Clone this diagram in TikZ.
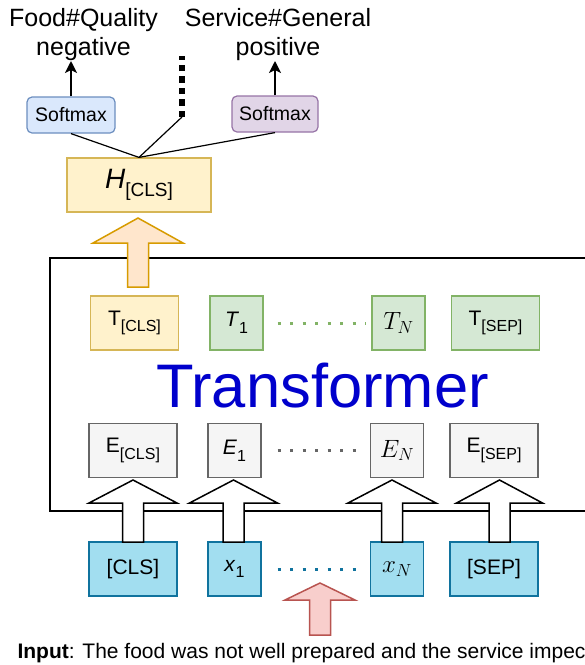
\RequirePackage{fix-cm}
\documentclass[tikz,border=0pt]{standalone}
\usepackage{fontspec}
\setmainfont{Liberation Sans}
\usetikzlibrary{arrows.meta}

\definecolor{clsfill}{HTML}{FFF2CC}
\definecolor{clsline}{HTML}{D6B656}
\definecolor{tokfill}{HTML}{D5E8D4}
\definecolor{tokline}{HTML}{82B366}
\definecolor{embfill}{HTML}{F5F5F5}
\definecolor{embline}{HTML}{666666}
\definecolor{inpfill}{HTML}{A2DEF0}
\definecolor{inpline}{HTML}{10739E}
\definecolor{smaxfill}{HTML}{DAE8FC}
\definecolor{smaxline}{HTML}{6C8EBF}
\definecolor{smbfill}{HTML}{E1D5E7}
\definecolor{smbline}{HTML}{9673A6}
\definecolor{upfill}{HTML}{FFE6CC}
\definecolor{upline}{HTML}{D79B00}
\definecolor{infill}{HTML}{F8CECC}
\definecolor{inline}{HTML}{B85450}
\definecolor{trfblue}{HTML}{0000CC}

% lowered small index for the box labels
\newcommand{\lowsub}[1]{\raisebox{-0.32em}{\fontsize{16}{16}\selectfont #1}}
% bigger math label for the last token
\newcommand{\mlab}[1]{{\fontsize{25}{28}\selectfont$#1$}}

% block arrow pointing up: style, x, bottom, neck, tip, half width of head
\newcommand{\blockup}[6]{%
	\draw[#1] (#2-10.5,#3) -- (#2-10.5,#4) -- (#2-#6,#4) -- (#2,#5)
		-- (#2+#6,#4) -- (#2+10.5,#4) -- (#2+10.5,#3) -- cycle;}

\begin{document}
\begin{tikzpicture}[x=1pt,y=-1pt,
	 every node/.style={font=\fontsize{21}{25}\selectfont},
	 box/.style={draw,line width=1.2pt,inner sep=0pt,minimum height=54},
	 wide/.style={box,minimum width=88},
	 narrow/.style={box,minimum width=53},
	 softmax/.style={draw,line width=1.2pt,rounded corners=5pt,inner sep=0pt,
	 	minimum height=36,font=\fontsize{19.5}{22}\selectfont}]

	 % style of the connectors
	 \tikzstyle{link}=[line width=1.2pt]
	 \tikzstyle{dots}=[line width=3pt,dash pattern=on 3pt off 9.5pt]
	 \tikzstyle{hollow}=[draw=black,fill=white,line width=1.5pt,line join=miter]

	 \useasboundingbox (0,0) rectangle (585,665);
	 \clip (0,0) rectangle (585,665);

	 % transformer frame
	 \draw[line width=1.2pt] (50,258) rectangle (620,511);
	 \node[anchor=base,text=trfblue,font=\fontsize{61.5}{64}\selectfont] (trf) at (322.5,407) {Transformer};

	 % output of the transformer
	 \node[wide,fill=clsfill,draw=clsline] (tcls) at (134.5,323) {T\lowsub{[CLS]}};
	 \node[narrow,fill=tokfill,draw=tokline] (t1) at (236.5,323) {\textit{T}\lowsub{1}};
	 \node[narrow,fill=tokfill,draw=tokline] (tn) at (398.5,323) {\mlab{T_N}};
	 \node[wide,fill=tokfill,draw=tokline] (tsep) at (495.5,323) {T\lowsub{[SEP]}};
	 \draw[dots,draw=tokline,shorten <=14pt,shorten >=6pt] (t1.east) -- (tn.west);

	 % embeddings
	 \node[wide,fill=embfill,draw=embline] (ecls) at (133,450.5) {E\lowsub{[CLS]}};
	 \node[narrow,fill=embfill,draw=embline] (e1) at (234.5,450.5) {\textit{E}\lowsub{1}};
	 \node[narrow,fill=embfill,draw=embline] (en) at (397,450.5) {\mlab{E_N}};
	 \node[wide,fill=embfill,draw=embline] (esep) at (494,450.5) {E\lowsub{[SEP]}};
	 \draw[dots,draw=embline,shorten <=16pt,shorten >=6pt] (e1.east) -- (en.west);

	 % input tokens
	 \node[wide,fill=inpfill,draw=inpline] (xcls) at (133,569) {[CLS]};
	 \node[narrow,fill=inpfill,draw=inpline] (x1) at (234.5,569) {\textit{x}\lowsub{1}};
	 \node[narrow,fill=inpfill,draw=inpline] (xn) at (397,569) {\mlab{x_N}};
	 \node[wide,fill=inpfill,draw=inpline] (xsep) at (494,569) {[SEP]};
	 \draw[dots,draw=inpline,shorten <=16pt,shorten >=6pt] (x1.east) -- (xn.west);

	 % block arrows
	 \blockup{hollow}{133}{542}{503}{480}{44}
	 \blockup{hollow}{233.5}{542}{503}{480}{44}
	 \blockup{hollow}{392}{542}{503}{480}{44}
	 \blockup{hollow}{499.5}{542}{503}{480}{43}
	 \blockup{hollow,fill=upfill,draw=upline}{138}{287}{243}{218}{45}
	 \blockup{hollow,fill=infill,draw=inline}{320}{635}{600}{583}{35}

	 \node[anchor=base west] (input) at (14,658) {\textbf{Input}: The food was not well prepared and the service impeccable.};

	 % classification heads
	 \node[box,fill=clsfill,draw=clsline,minimum width=144] (hcls) at (139,185)
	 	{\fontsize{28}{30}\selectfont\textit{H}\raisebox{-0.3em}{\fontsize{19}{19}\selectfont[CLS]}};
	 \node[softmax,fill=smaxfill,draw=smaxline,minimum width=88] (smA) at (71,115) {Softmax};
	 \node[softmax,fill=smbfill,draw=smbline,minimum width=86] (smB) at (275,114) {Softmax};
	 \coordinate (vdotA) at (182,117);
	 \coordinate (vdotB) at (182,56);

	 \node[anchor=south,align=center,inner sep=0pt,font=\fontsize{25}{29}\selectfont] (lblA) at (83.5,61)
	 	{Food\#Quality\\negative};
	 \node[anchor=south,align=center,inner sep=0pt,font=\fontsize{25}{29}\selectfont] (lblB) at (278,61)
	 	{Service\#General\\positive};

	 \draw[link] (hcls.north) -- (smA.south);
	 \draw[link] (hcls.north) -- (vdotA);
	 \draw[link] (hcls.north) -- (smB.south);
	 \draw[line width=6.5pt,dash pattern=on 6.5pt off 5pt] (vdotA) -- (vdotB);
	 \draw[line width=2.6pt,-{Stealth[length=12pt,width=12pt,inset=3pt]}] (smA.north) -- (smA.north |- lblA.south);
	 \draw[line width=1.4pt,-{Stealth[length=12pt,width=12pt,inset=3pt]}] (smB.north) -- (smB.north |- lblB.south);

\end{tikzpicture}
\end{document}
